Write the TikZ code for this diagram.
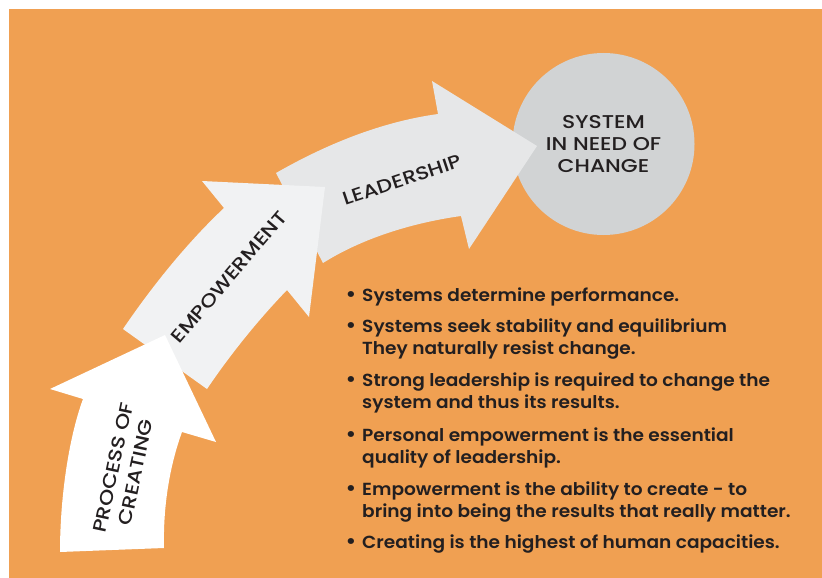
\documentclass[tikz,border=0pt]{standalone}
\usepackage{fontspec}
\setmainfont{Poppins}[UprightFont={* SemiBold}]
\newfontfamily\bodyface{Poppins}[UprightFont={* SemiBold}, FakeStretch=1.06]
\newfontfamily\capsface{Poppins}[UprightFont={* Medium}, FakeStretch=1.18]
\definecolor{bgorange}{HTML}{F0A052}
\definecolor{ink}{HTML}{231F20}
\definecolor{arrowA}{HTML}{FFFFFF}
\definecolor{arrowB}{HTML}{F1F2F3}
\definecolor{arrowC}{HTML}{E6E7E8}
\definecolor{disc}{HTML}{D1D3D4}
\tikzset{
  lbl/.style={text=ink, align=center, inner sep=0pt,
    font=\capsface\fontsize{18.5}{23}\selectfont},
  pointtext/.style={text=ink, inner sep=0pt, anchor=base west,
    font=\bodyface\fontsize{17.5}{22.5}\selectfont},
  dot/.style={text=ink, inner sep=0pt, anchor=base,
    font=\bodyface\fontsize{21}{22.5}\selectfont},
}
\begin{document}
\begin{tikzpicture}[x=1pt, y=-1pt]
\useasboundingbox (0,0) rectangle (822,578);
\fill[white] (0,0) rectangle (822,578);
\fill[bgorange] (9,9) rectangle (822,578);

% target circle
\node[circle, fill=disc, minimum size=182pt, inner sep=0pt, text=ink,
      align=center, font=\capsface\fontsize{18.5}{22}\selectfont]
  (sys) at (603.5,144) {SYSTEM\\IN NEED OF\\CHANGE};

% third arrow: leadership
\fill[arrowC] (276,173) .. controls (325,145) and (380,122) .. (438,114)
  -- (432,81) -- (537,146) -- (469,249) -- (461,216)
  .. controls (418,222) and (366,236) .. (323,263) -- cycle;

% second arrow: empowerment
\fill[arrowB] (123,329) -- (207,389)
  .. controls (232,352) and (260,318) .. (287,290)
  -- (309,317) -- (325,187) -- (202,181) -- (224,208)
  .. controls (190,240) and (155,282) .. (123,329) -- cycle;

% first arrow: process of creating
\fill[arrowA] (60,552) -- (164,548)
  .. controls (163,505) and (170,465) .. (182,432)
  -- (216,442) -- (165,335) -- (50,389) -- (83,399)
  .. controls (68,440) and (60,500) .. (60,552) -- cycle;

% arrow labels
\node[lbl, rotate=78] (pc) at (124.5,470) {PROCESS OF\\CREATING};
\node[lbl, rotate=49.5] (emp) at (229,277) {EMPOWERMENT};
\node[lbl, rotate=18.5] (lead) at (402,180) {LEADERSHIP};

% bullet points
\node[dot] (d1) at (351,301) {•};
\node[pointtext] (p1) at (362,301) {Systems determine performance.};
\node[dot] (d2) at (351,332) {•};
\node[pointtext] (p2) at (362,332) {\begin{tabular}[t]{@{}l@{}}Systems seek stability and equilibrium\\They naturally resist change.\end{tabular}};
\node[dot] (d3) at (351,386) {•};
\node[pointtext] (p3) at (362,386) {\begin{tabular}[t]{@{}l@{}}Strong leadership is required to change the\\system and thus its results.\end{tabular}};
\node[dot] (d4) at (351,441) {•};
\node[pointtext] (p4) at (362,441) {\begin{tabular}[t]{@{}l@{}}Personal empowerment is the essential\\quality of leadership.\end{tabular}};
\node[dot] (d5) at (351,495) {•};
\node[pointtext] (p5) at (362,495) {\begin{tabular}[t]{@{}l@{}}Empowerment is the ability to create - to\\bring into being the results that really matter.\end{tabular}};
\node[dot] (d6) at (351,548) {•};
\node[pointtext] (p6) at (362,548) {Creating is the highest of human capacities.};
\end{tikzpicture}
\end{document}
